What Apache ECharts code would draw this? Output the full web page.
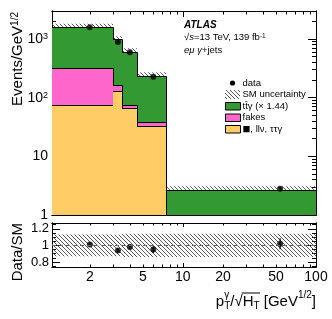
<!DOCTYPE html>
<html><head><meta charset="utf-8">
<script src="https://cdn.jsdelivr.net/npm/echarts@6/dist/echarts.min.js"></script>
<style>html,body{margin:0;padding:0;background:#fff}#c{width:332px;height:319px}</style>
</head><body><div id="c"></div>
<script>
// ---- data ----
const binEdges = [1, 3, 3.5, 4.5, 7.5, 100];
const ttgamma = [1295, 822, 534, 199, 2.2];
const fakes = [246, 35, 10, 5, 0.1];
const other = [74, 128, 66, 33, 0.4];
const dataVals = [1580, 890, 596, 228, 2.79];
const dataErr = [28, 25, 20, 9, 0.25];
const ratioVals = [1.01, 0.94, 0.98, 0.95, 1.02];
const ratioErr = [0.015, 0.025, 0.03, 0.04, 0.065];
const uncRel = [0.13, 0.13, 0.14, 0.14, 0.14];
const xTickLabels = [2, 5, 10, 20, 50, 100];
const yTickLabels = [1, 10, 100, 1000];
const ratioTickLabels = [0.8, 1, 1.2];
const xMinorTicks = [2, 3, 4, 5, 6, 7, 8, 9, 20, 30, 40, 50, 60, 70, 80, 90];
const xMajorTicks = [10, 100];
const yMinorTicks = [2,3,4,5,6,7,8,9,20,30,40,50,60,70,80,90,200,300,400,500,600,700,800,900,2000,3000];
const rMinorTicks = [0.75, 0.85, 0.9, 0.95, 1.05, 1.1, 1.15, 1.25];

const X_MIN = 1.04, X_MAX = 100, Y_MIN = 1, Y_MAX = 3000, R_MIN = 0.74, R_MAX = 1.27;
const FONT = '"Liberation Sans", Arial, Helvetica, sans-serif';
const C_TT = '#339933', C_FAKE = '#ff66cc', C_OTHER = '#ffcc66';

function hatchCanvas() {
  const c = document.createElement('canvas'); c.width = 4; c.height = 4;
  const g = c.getContext('2d');
  g.strokeStyle = '#444'; g.lineWidth = 0.9;
  g.beginPath();
  g.moveTo(-1, -1); g.lineTo(5, 5);
  g.moveTo(-1, 3); g.lineTo(1, 5);
  g.moveTo(3, -1); g.lineTo(5, 1);
  g.stroke();
  return c;
}
const HATCH = { image: hatchCanvas(), repeat: 'repeat' };

const stackOther = other.slice();
const stackFakes = other.map((v, i) => v + fakes[i]);
const stackTotal = stackFakes.map((v, i) => v + ttgamma[i]);
const centers = binEdges.slice(0, -1).map((e, i) => (e + binEdges[i + 1]) / 2);

const R = Math.round;
function layerData(tops) {
  return tops.map((t, i) => [binEdges[i], binEdges[i + 1], Math.max(t, Y_MIN),
    i + 1 < tops.length ? Math.max(tops[i + 1], Y_MIN) : Y_MIN]);
}
function layerRender(color) {
  return function (params, api) {
    const lo = Math.max(api.value(0), X_MIN), hi = api.value(1), top = api.value(2), next = api.value(3);
    const p1 = api.coord([lo, top]), p2 = api.coord([hi, Y_MIN]), pn = api.coord([hi, next]);
    const x1 = R(p1[0]), x2 = R(p2[0]), y1 = R(p1[1]), y2 = R(p2[1]), yn = R(pn[1]);
    return { type: 'group', children: [
      { type: 'rect', shape: { x: x1, y: y1, width: x2 - x1, height: y2 - y1 }, style: { fill: color } },
      { type: 'polyline', shape: { points: [[x1, y1 + 0.5], [x2 + 0.5, y1 + 0.5], [x2 + 0.5, yn + 0.5]] }, style: { stroke: '#000', lineWidth: 1, fill: null } }
    ]};
  };
}
function bandRender(params, api) {
  const lo = Math.max(api.value(0), X_MIN), hi = api.value(1);
  const a = api.coord([lo, api.value(2)]), b = api.coord([hi, api.value(3)]);
  return { type: 'rect', shape: { x: R(a[0]), y: a[1], width: R(b[0]) - R(a[0]), height: b[1] - a[1] }, style: { fill: HATCH } };
}
function errRender(params, api) {
  const a = api.coord([api.value(0), api.value(1)]), b = api.coord([api.value(0), api.value(2)]);
  return { type: 'line', shape: { x1: a[0], y1: a[1], x2: b[0], y2: b[1] }, style: { stroke: '#000', lineWidth: 1.2 } };
}

const MAIN = { left: 52, top: 11, width: 264, height: 204 };
const RAT = { left: 52, top: 223, width: 264, height: 44 };

function xAx(grid, pos, ticks, len, labels) {
  return { type: 'log', logBase: 10, gridIndex: grid, position: pos, min: X_MIN, max: X_MAX,
    axisLine: { show: true, onZero: false, lineStyle: { color: '#000', width: 1 } },
    axisTick: { show: true, inside: true, length: len, customValues: ticks, lineStyle: { color: '#000', width: 1 } },
    axisLabel: labels ? { show: true, customValues: labels, fontSize: 14, fontFamily: FONT, color: '#000', margin: 3, formatter: v => String(v) } : { show: false },
    splitLine: { show: false }, minorTick: { show: false } };
}
const yRich = { b: { fontSize: 14, fontFamily: FONT, color: '#000' }, s: { fontSize: 9, fontFamily: FONT, color: '#000', verticalAlign: 'top', lineHeight: 9 } };
function yAxMain(grid, pos, ticks, len, labels) {
  return { type: 'log', logBase: 10, gridIndex: grid, position: pos, min: Y_MIN, max: Y_MAX,
    axisLine: { show: true, onZero: false, lineStyle: { color: '#000', width: 1 } },
    axisTick: { show: true, inside: true, length: len, customValues: ticks, lineStyle: { color: '#000', width: 1 } },
    axisLabel: labels ? { show: true, customValues: labels, margin: 4, rich: yRich,
      formatter: v => v < 50 ? '{b|' + Math.round(v) + '}' : '{b|10}{s|' + Math.round(Math.log10(v)) + '}' } : { show: false },
    splitLine: { show: false } };
}
function yAxRat(grid, pos, ticks, len, labels) {
  return { type: 'value', gridIndex: grid, position: pos, min: R_MIN, max: R_MAX,
    axisLine: { show: true, onZero: false, lineStyle: { color: '#000', width: 1 } },
    axisTick: { show: true, inside: true, length: len, customValues: ticks, lineStyle: { color: '#000', width: 1 } },
    axisLabel: labels ? { show: true, customValues: labels, margin: 3, fontSize: 13, fontFamily: FONT, color: '#000',
      formatter: v => Math.abs(v - 1) < 1e-9 ? '1' : v.toFixed(1) } : { show: false },
    splitLine: { show: false } };
}

// x title pieces laid out by measured widths
const mctx = document.createElement('canvas').getContext('2d');
function tw(t, s) { mctx.font = s + 'px ' + FONT; return mctx.measureText(t).width; }
const XT_Y = 301.5, XT_RIGHT = 316;
const xtTokens = [
  { t: 'p', s: 15, dy: 0 },
  { t: 'γ', s: 10, dy: -6, t2: 'T', dy2: 5 },
  { t: '/√', s: 15, dy: 0 },
  { t: 'H', s: 15, dy: 0, over: true },
  { t: 'T', s: 10, dy: 5, over: true },
  { t: ' [GeV', s: 15, dy: 0 },
  { t: '1/2', s: 10, dy: -6 },
  { t: ']', s: 15, dy: 0 }
];
let totalW = 0;
xtTokens.forEach(k => { k.w = Math.max(tw(k.t, k.s), k.t2 ? tw(k.t2, k.s) : 0); totalW += k.w; });
let cx = XT_RIGHT - totalW;
const xtGraphics = [];
let overStart = null, overEnd = null;
xtTokens.forEach(k => {
  xtGraphics.push({ type: 'text', x: cx, y: XT_Y + k.dy, style: { text: k.t, font: k.s + 'px ' + FONT, fill: '#000', align: 'left', verticalAlign: 'middle' } });
  if (k.t2) xtGraphics.push({ type: 'text', x: cx, y: XT_Y + k.dy2, style: { text: k.t2, font: k.s + 'px ' + FONT, fill: '#000', align: 'left', verticalAlign: 'middle' } });
  if (k.over) { if (overStart === null) overStart = cx; overEnd = cx + k.w; }
  cx += k.w;
});
xtGraphics.push({ type: 'line', shape: { x1: overStart - 1, y1: XT_Y - 8.5, x2: overEnd + 0.5, y2: XT_Y - 8.5 }, style: { stroke: '#000', lineWidth: 1 } });

const small = 9.5;
const legendX = 225, legendTX = 242.5;
const legendRows = [83, 94.5, 106, 117.5, 129];

const option = {
  animation: false,
  textStyle: { fontFamily: FONT },
  grid: [ Object.assign({ show: false }, MAIN), Object.assign({ show: false }, MAIN), Object.assign({ show: false }, RAT), Object.assign({ show: false }, RAT) ],
  xAxis: [
    xAx(0, 'bottom', xMajorTicks, 6), xAx(0, 'top', xMajorTicks, 6),
    xAx(1, 'bottom', xMinorTicks, 3.5), xAx(1, 'top', xMinorTicks, 3.5),
    xAx(2, 'bottom', xMajorTicks, 4, xTickLabels), xAx(2, 'top', xMajorTicks, 4),
    xAx(3, 'bottom', xMinorTicks, 2.5), xAx(3, 'top', xMinorTicks, 2.5)
  ],
  yAxis: [
    yAxMain(0, 'left', yTickLabels, 8, yTickLabels), yAxMain(0, 'right', yTickLabels, 8),
    yAxMain(1, 'left', yMinorTicks, 4), yAxMain(1, 'right', yMinorTicks, 4),
    yAxRat(2, 'left', ratioTickLabels, 8, ratioTickLabels), yAxRat(2, 'right', ratioTickLabels, 8),
    yAxRat(3, 'left', rMinorTicks, 4), yAxRat(3, 'right', rMinorTicks, 4)
  ],
  series: [
    { type: 'custom', name: 'SM uncertainty', xAxisIndex: 0, yAxisIndex: 0, clip: true, renderItem: bandRender,
      encode: { x: [0, 1], y: [2, 3] },
      data: stackTotal.map((t, i) => [binEdges[i], binEdges[i + 1], t * (1 + uncRel[i]), t * (1 - uncRel[i])]) },
    { type: 'custom', name: 'ttgamma', xAxisIndex: 0, yAxisIndex: 0, clip: true, renderItem: layerRender(C_TT),
      encode: { x: [0, 1], y: [2, 3] }, data: layerData(stackTotal) },
    { type: 'custom', name: 'fakes', xAxisIndex: 0, yAxisIndex: 0, clip: true, renderItem: layerRender(C_FAKE),
      encode: { x: [0, 1], y: [2, 3] }, data: layerData(stackFakes) },
    { type: 'custom', name: 'other', xAxisIndex: 0, yAxisIndex: 0, clip: true, renderItem: layerRender(C_OTHER),
      encode: { x: [0, 1], y: [2, 3] }, data: layerData(stackOther) },
    { type: 'custom', name: 'data err', xAxisIndex: 0, yAxisIndex: 0, renderItem: errRender,
      encode: { x: 0, y: [1, 2] }, data: dataVals.map((v, i) => [centers[i], v - dataErr[i], v + dataErr[i]]) },
    { type: 'scatter', name: 'data', xAxisIndex: 0, yAxisIndex: 0, symbol: 'circle', symbolSize: 6,
      itemStyle: { color: '#000' }, data: dataVals.map((v, i) => [centers[i], v]) },
    // ratio panel
    { type: 'custom', name: 'ratio band', xAxisIndex: 4, yAxisIndex: 4, clip: true, renderItem: bandRender,
      encode: { x: [0, 1], y: [2, 3] },
      data: uncRel.map((u, i) => [binEdges[i], binEdges[i + 1], 1 + u, 1 - u]) },
    { type: 'custom', name: 'ratio err', xAxisIndex: 4, yAxisIndex: 4, renderItem: errRender,
      encode: { x: 0, y: [1, 2] }, data: ratioVals.map((v, i) => [centers[i], v - ratioErr[i], v + ratioErr[i]]) },
    { type: 'scatter', name: 'ratio', xAxisIndex: 4, yAxisIndex: 4, symbol: 'circle', symbolSize: 6,
      itemStyle: { color: '#000' }, data: ratioVals.map((v, i) => [centers[i], v]),
      markLine: { silent: true, symbol: 'none', label: { show: false },
        lineStyle: { color: '#666', type: [4, 3], width: 1 }, data: [{ yAxis: 1 }] } }
  ],
  graphic: [
    { type: 'text', x: 18, y: 12, rotation: Math.PI / 2,
      style: { text: '{m|Events/GeV}{s|1/2}', fill: '#000', align: 'right', verticalAlign: 'middle',
        rich: { m: { fontSize: 15, fontFamily: FONT }, s: { fontSize: 10, fontFamily: FONT, verticalAlign: 'top', lineHeight: 10 } } } },
    { type: 'text', x: 18, y: 223, rotation: Math.PI / 2,
      style: { text: 'Data/SM', font: '15px ' + FONT, fill: '#000', align: 'right', verticalAlign: 'middle' } },
    { type: 'text', x: 184, y: 25, style: { text: 'ATLAS', font: 'italic bold 10px ' + FONT, fill: '#000', verticalAlign: 'middle' } },
    { type: 'text', x: 184, y: 37.5, style: { text: '{n|√}{i|s}{n|=13 TeV, 139 fb}{s|-1}', fill: '#000', verticalAlign: 'middle',
        rich: { n: { fontSize: small, fontFamily: FONT }, i: { fontSize: small, fontFamily: FONT, fontStyle: 'italic' },
          s: { fontSize: 6.5, fontFamily: FONT, verticalAlign: 'top', lineHeight: 7 } } } },
    { type: 'text', x: 184, y: 50, style: { text: '{i|eμ γ}{n|+jets}', fill: '#000', verticalAlign: 'middle',
        rich: { n: { fontSize: small, fontFamily: FONT }, i: { fontSize: small, fontFamily: FONT, fontStyle: 'italic' } } } },
    // legend
    { type: 'circle', shape: { cx: 232.5, cy: legendRows[0], r: 2.6 }, style: { fill: '#000' } },
    { type: 'text', x: legendTX, y: legendRows[0], style: { text: 'data', font: small + 'px ' + FONT, fill: '#000', verticalAlign: 'middle' } },
    { type: 'rect', shape: { x: legendX, y: legendRows[1] - 4.5, width: 15, height: 9 }, style: { fill: HATCH } },
    { type: 'text', x: legendTX, y: legendRows[1], style: { text: 'SM uncertainty', font: small + 'px ' + FONT, fill: '#000', verticalAlign: 'middle' } },
    { type: 'rect', shape: { x: legendX + 0.5, y: legendRows[2] - 3.5, width: 15, height: 7.5 }, style: { fill: C_TT, stroke: '#000', lineWidth: 1 } },
    { type: 'text', x: legendTX, y: legendRows[2], style: { text: 'tt̄γ (× 1.44)', font: small + 'px ' + FONT, fill: '#000', verticalAlign: 'middle' } },
    { type: 'rect', shape: { x: legendX + 0.5, y: legendRows[3] - 3.5, width: 15, height: 7.5 }, style: { fill: C_FAKE, stroke: '#000', lineWidth: 1 } },
    { type: 'text', x: legendTX, y: legendRows[3], style: { text: 'fakes', font: small + 'px ' + FONT, fill: '#000', verticalAlign: 'middle' } },
    { type: 'rect', shape: { x: legendX + 0.5, y: legendRows[4] - 3.5, width: 15, height: 7.5 }, style: { fill: C_OTHER, stroke: '#000', lineWidth: 1 } },
    { type: 'text', x: legendTX, y: legendRows[4], style: { text: '{g|■}{n|, llν, ττγ}', fill: '#000', verticalAlign: 'middle',
        rich: { g: { fontSize: 13, fontFamily: FONT, color: '#999' }, n: { fontSize: small, fontFamily: FONT } } } }
  ].concat(xtGraphics)
};

const chart = echarts.init(document.getElementById('c'), null, { renderer: 'canvas', width: 332, height: 319 });
chart.setOption(option);
</script>
</body></html>
